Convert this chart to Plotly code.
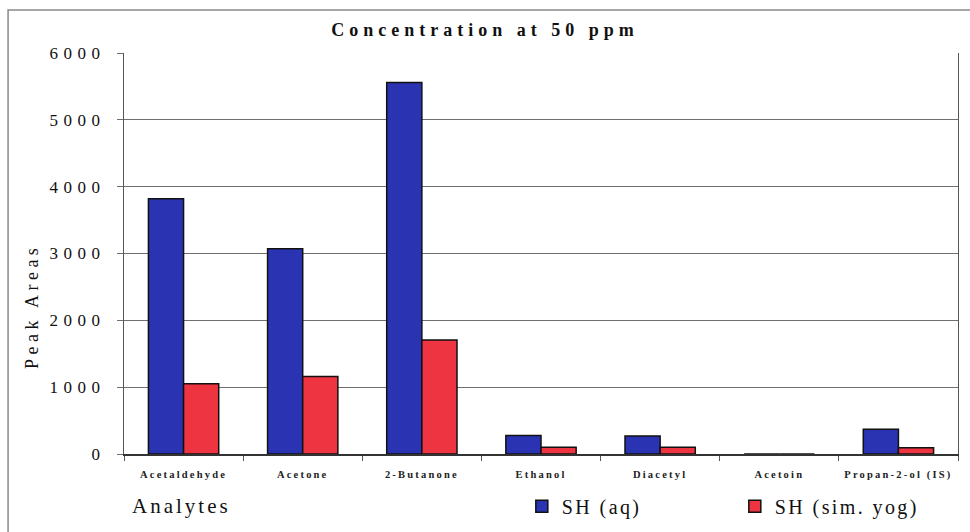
import plotly.graph_objects as go

# Peak areas of each analyte at 50 ppm, two sample matrices
analytes = ["Acetaldehyde", "Acetone", "2-Butanone", "Ethanol",
            "Diacetyl", "Acetoin", "Propan-2-ol (IS)"]
sh_aq = [3820, 3070, 5560, 275, 270, 0, 370]
sh_sim_yog = [1050, 1160, 1705, 100, 100, 0, 95]
y_ticks = [0, 1000, 2000, 3000, 4000, 5000, 6000]
series_names = ["SH (aq)", "SH (sim. yog)"]

SERIF = "Liberation Serif, Times New Roman, serif"
BLUE = "#2a34b3"
RED = "#ef3441"
INK = "#111111"


def spaced(text, px):
    """Wrap text in a span with widened letter spacing."""
    return f'<span style="letter-spacing:{px}px">{text}</span>'


fig = go.Figure()
for name, values, color in [(series_names[0], sh_aq, BLUE),
                            (series_names[1], sh_sim_yog, RED)]:
    fig.add_trace(go.Bar(
        name=spaced(name, 2.4), x=analytes, y=values,
        marker=dict(color=color, line=dict(color=INK, width=1.5)),
    ))

fig.update_layout(
    width=970, height=532,
    margin=dict(l=124, r=12, t=53, b=78, autoexpand=False),
    paper_bgcolor="white", plot_bgcolor="white",
    barmode="group", bargap=0.41, bargroupgap=0,
    title=dict(text="<b>" + spaced("Concentration at 50 ppm", 5) + "</b>",
               x=0.5, xref="container", xanchor="center",
               y=1 - 30 / 532, yanchor="middle",
               font=dict(family=SERIF, size=18, color=INK)),
    font=dict(family=SERIF, color=INK),
    showlegend=True,
    legend=dict(orientation="h", x=0.477, xanchor="left", y=-0.13, yanchor="middle",
                entrywidth=168, entrywidthmode="pixels",
                font=dict(family=SERIF, size=20, color=INK),
                bgcolor="rgba(0,0,0,0)"),
)

fig.update_xaxes(
    showline=True, linecolor="#333333", linewidth=1.5, mirror=False,
    ticks="outside", ticklen=5, tickcolor="#555555",
    tickson="boundaries", showgrid=False,
    tickvals=analytes, ticktext=[spaced(a, 2.2) for a in analytes],
    tickfont=dict(family=SERIF, size=10.5, color="#222222", weight="bold"),
    ticklabelstandoff=10,
)
fig.update_yaxes(
    range=[0, 6000], tickvals=y_ticks,
    ticktext=[spaced(str(v), 5.5) for v in y_ticks],
    showline=True, linecolor="#555555", linewidth=1.2, mirror=True,
    showgrid=True, gridcolor="#6f6f6f", gridwidth=1,
    ticks="outside", ticklen=6, tickcolor="#6f6f6f",
    tickfont=dict(family=SERIF, size=17, color=INK),
    ticklabelstandoff=8,
    zeroline=False,
)

fig.add_annotation(text=spaced("Peak Areas", 4.5), xref="paper", yref="paper",
                   x=-0.110, y=0.367, xanchor="center", yanchor="middle",
                   textangle=-90, showarrow=False,
                   font=dict(family=SERIF, size=18, color=INK))
fig.add_annotation(text=spaced("Analytes", 3), xref="paper", yref="paper",
                   x=0.007, y=-0.13, xanchor="left", yanchor="middle",
                   showarrow=False, font=dict(family=SERIF, size=21, color=INK))

# outer frame around the whole chart
fig.add_shape(type="rect", xref="paper", yref="paper",
              x0=-0.139, x1=1.03, y0=-0.25, y1=1.107,
              line=dict(color="#8a8a8a", width=1.5), layer="below")

fig.write_html("out.html")
